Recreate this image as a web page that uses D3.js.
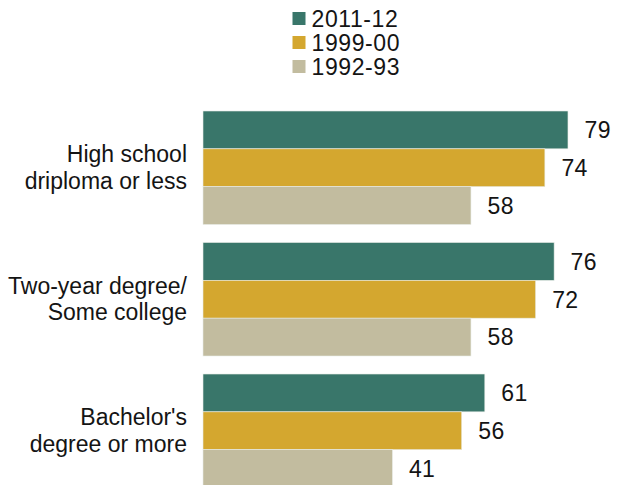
<!DOCTYPE html>
<html>
<head>
<meta charset="utf-8">
<script src="https://cdn.jsdelivr.net/npm/d3@7"></script>
<style>
  html, body { margin: 0; padding: 0; background: #fff; }
  svg { display: block; }
  text { font-family: "Liberation Sans", Arial, sans-serif; fill: #141414; }
</style>
</head>
<body>
<script>
// Education groups (each label split into two lines)
const categories = ["High school|driploma or less", "Two-year degree/|Some college", "Bachelor's|degree or more"];
// Survey periods, in drawing order within each group
const seriesNames = ["2011-12", "1999-00", "1992-93"];
const seriesColors = ["#39766a", "#d4a72f", "#c2bc9f"];
// Values per series, aligned with categories
const values2011 = [79, 76, 61];
const values1999 = [74, 72, 56];
const values1992 = [58, 58, 41];
const seriesValues = [values2011, values1999, values1992];

const W = 618, H = 485;
const svg = d3.select("body").append("svg").attr("width", W).attr("height", H);

const x = d3.scaleLinear().domain([0, 100]).range([203, 203 + 462]);

const y0 = d3.scaleBand()
  .domain(categories)
  .range([111, 487.5])
  .paddingInner(0.137);

const y1 = d3.scaleBand()
  .domain(seriesNames)
  .range([0, y0.bandwidth()]);

const groups = svg.selectAll("g.grp")
  .data(categories)
  .join("g")
  .attr("class", "grp")
  .attr("transform", d => `translate(0,${y0(d)})`);

groups.each(function(cat, ci) {
  const g = d3.select(this);
  const rows = seriesNames.map((s, si) => ({ s, si, v: seriesValues[si][ci] }));

  g.selectAll("rect")
    .data(rows)
    .join("rect")
    .attr("x", x(0))
    .attr("y", d => y1(d.s))
    .attr("width", d => x(d.v) - x(0))
    .attr("height", y1.bandwidth())
    .attr("fill", d => seriesColors[d.si])
    .attr("stroke", "#e8ece6")
    .attr("stroke-width", 0.6);

  g.selectAll("text.val")
    .data(rows)
    .join("text")
    .attr("class", "val")
    .attr("x", d => x(d.v) + 16.5)
    .attr("y", d => y1(d.s) + y1.bandwidth() / 2)
    .attr("dy", "0.36em")
    .attr("font-size", 23)
    .attr("letter-spacing", 0.4)
    .text(d => d.v);

  const lines = cat.split("|");
  const mid = y0.bandwidth() / 2 + 8;
  g.append("text")
    .attr("class", "cat")
    .attr("text-anchor", "end")
    .attr("font-size", 23)
    .selectAll("tspan")
    .data(lines)
    .join("tspan")
    .attr("x", 187)
    .attr("y", (d, i) => mid + (i - (lines.length - 1) / 2) * 26.5)
    .text(d => d);
});

// Legend
const legend = svg.append("g").attr("transform", "translate(292.5,0)");
const legRows = legend.selectAll("g")
  .data(seriesNames)
  .join("g")
  .attr("transform", (d, i) => `translate(0,${12 + i * 24})`);
legRows.append("rect")
  .attr("width", 13).attr("height", 13)
  .attr("fill", (d, i) => seriesColors[i]);
legRows.append("text")
  .attr("x", 19)
  .attr("y", 6.5)
  .attr("dy", "0.36em")
  .attr("font-size", 23)
  .attr("letter-spacing", 0.6)
  .text(d => d);
</script>
</body>
</html>
